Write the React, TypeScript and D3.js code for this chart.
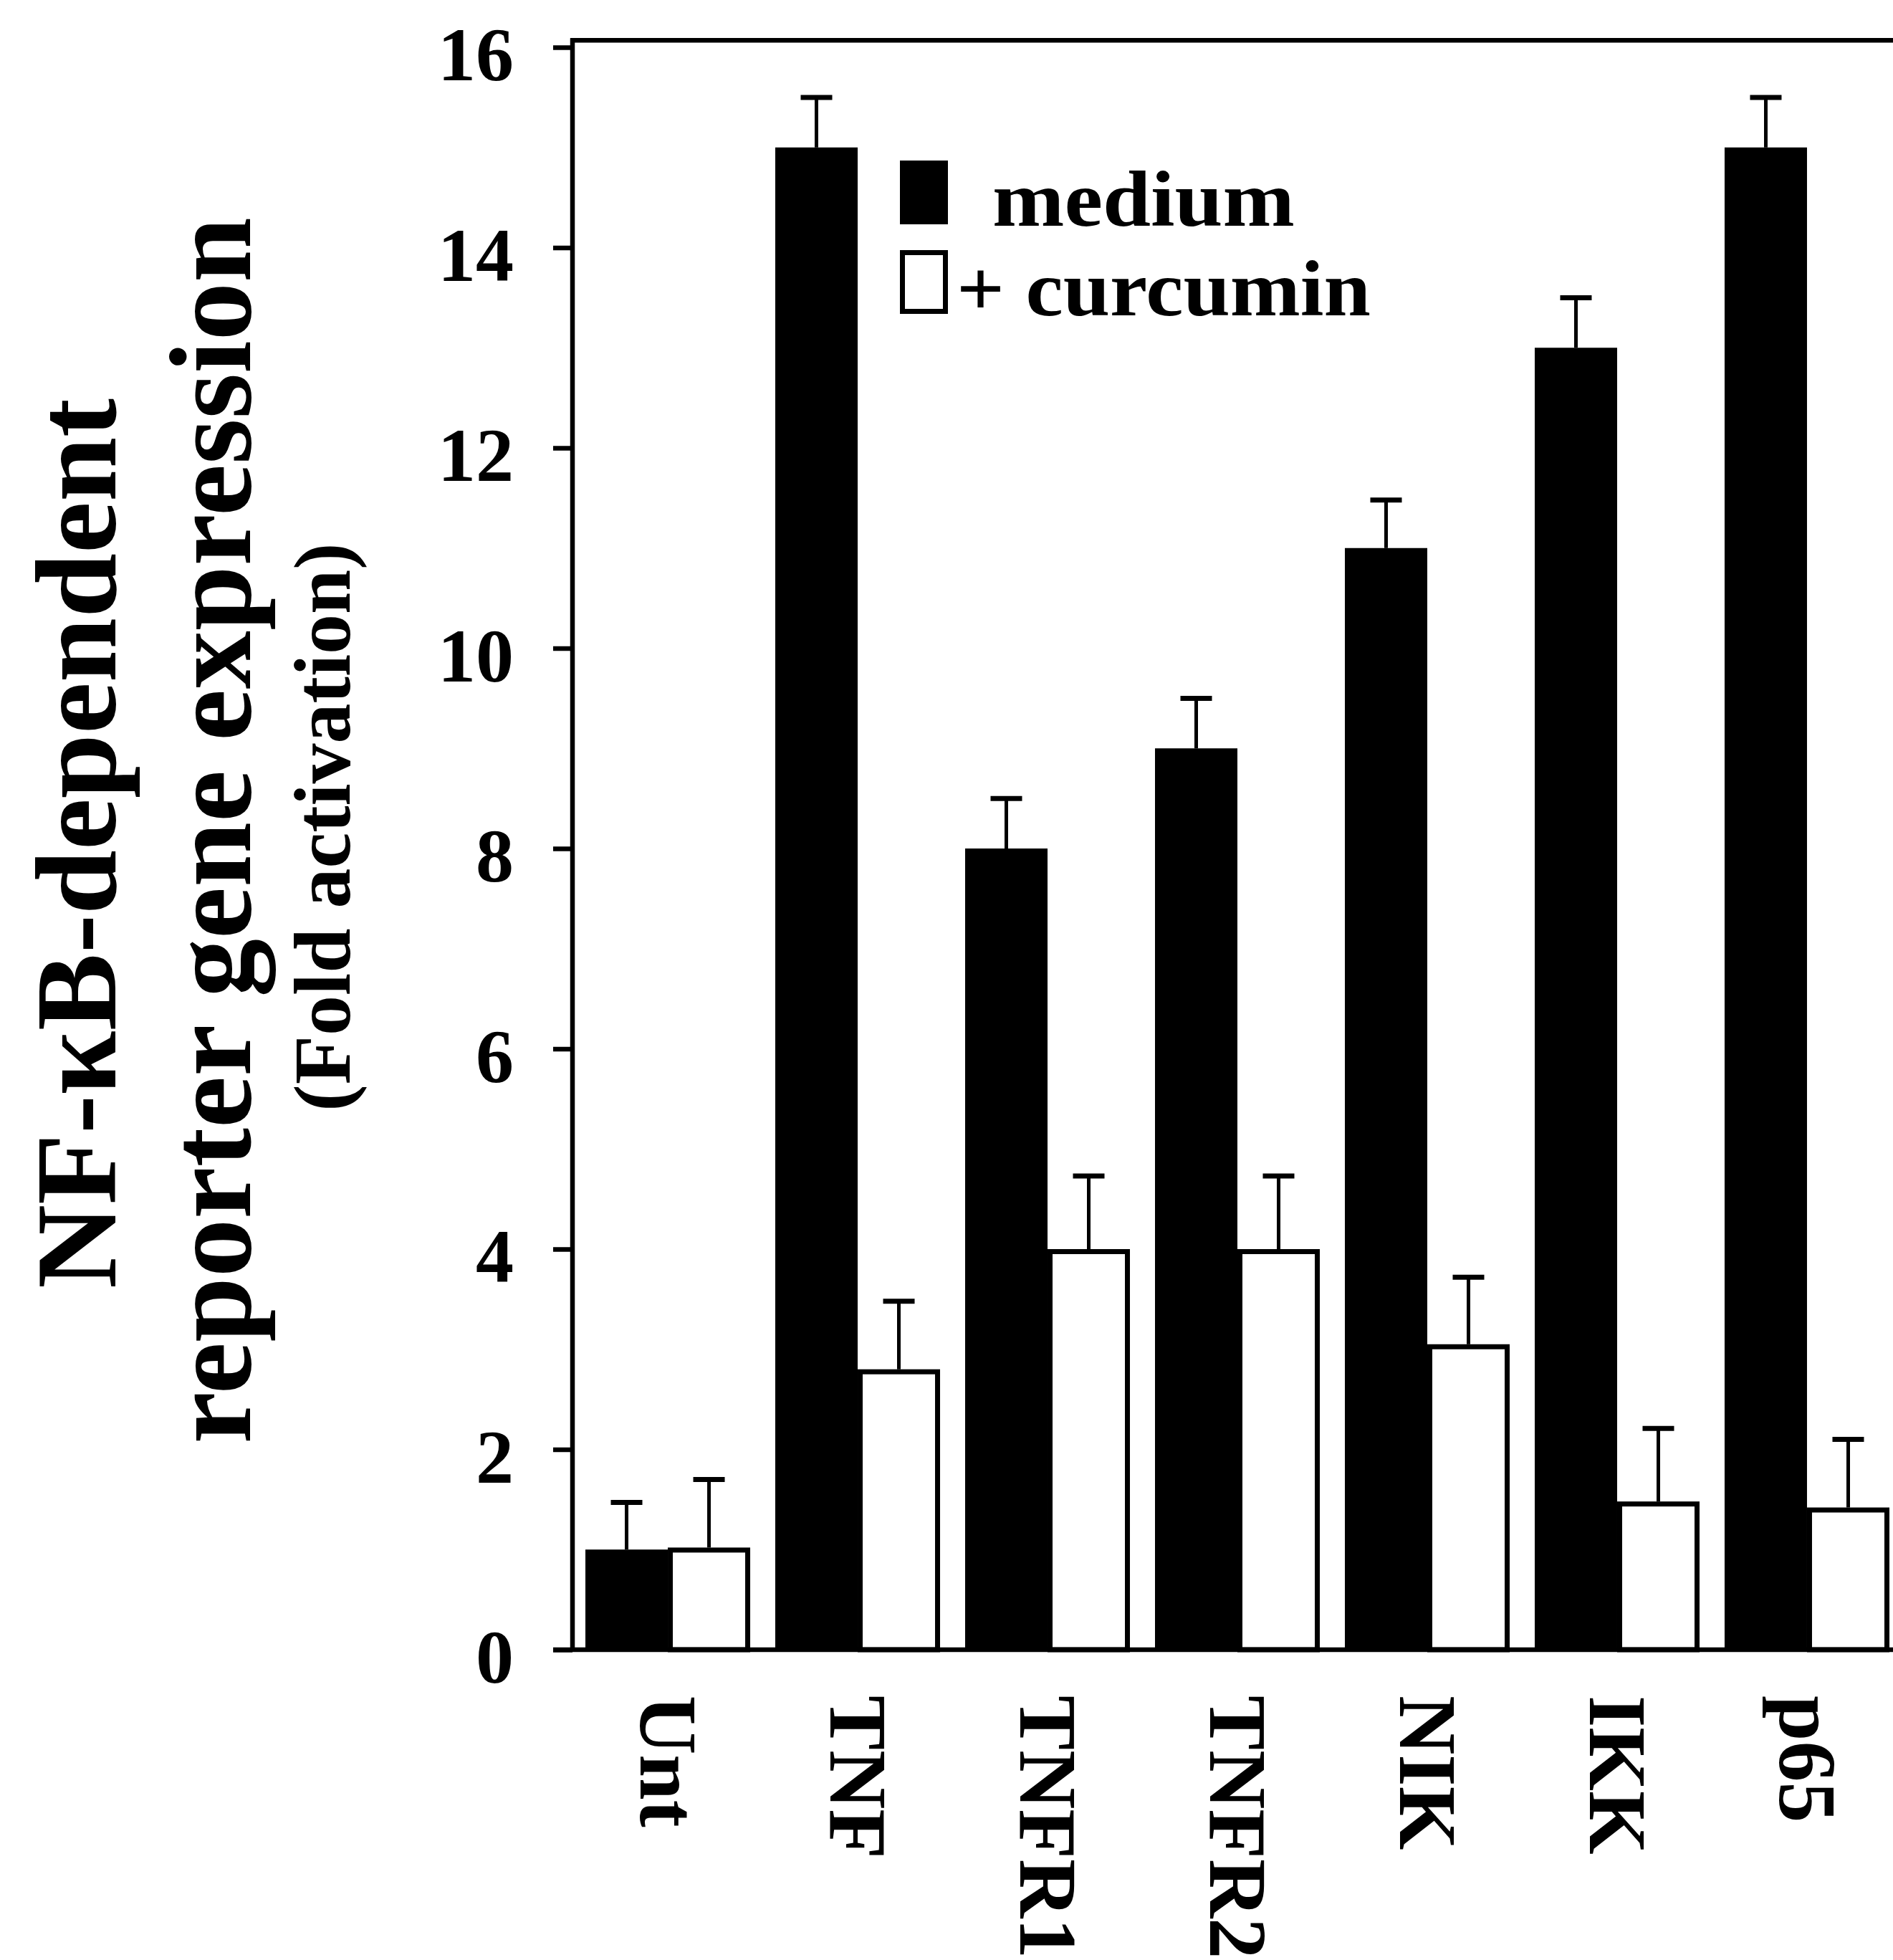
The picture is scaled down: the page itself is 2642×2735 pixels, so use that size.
import React, { useEffect, useRef } from 'react';
import * as d3 from 'd3';

const categories = ['Unt', 'TNF', 'TNFR1', 'TNFR2', 'NIK', 'IKK', 'p65'];
const seriesNames = ['medium', '+ curcumin'];
const mediumValues = [1.0, 15.0, 8.0, 9.0, 11.0, 13.0, 15.0];
const mediumErrors = [0.47, 0.5, 0.5, 0.5, 0.48, 0.5, 0.5];
const curcuminValues = [1.02, 2.8, 4.0, 4.0, 3.05, 1.48, 1.42];
const curcuminErrors = [0.68, 0.68, 0.73, 0.73, 0.67, 0.73, 0.68];
const yTicks = [0, 2, 4, 6, 8, 10, 12, 14, 16];
const yTitleLines = ['NF-\u03BAB-dependent', 'reporter gene expression', '(Fold activation)'];

const W = 2642;
const H = 2735;
const FONT = '"Liberation Serif", "Times New Roman", serif';

export default function App() {
  const axisRef = useRef<SVGGElement>(null);

  const y = d3.scaleLinear().domain([0, 16]).range([2302, 66]);
  const x = d3
    .scaleBand<string>()
    .domain(categories)
    .range([799, 2655])
    .paddingInner(0.132)
    .paddingOuter(0.068);
  const xs = d3.scaleBand<string>().domain(seriesNames).range([0, x.bandwidth()]);
  const axisX = 799;
  const frameTop = y(16.07);
  const sw = 7;
  const capHalf = 22;

  useEffect(() => {
    document.body.style.margin = '0';
    if (!axisRef.current) return;
    const g = d3.select(axisRef.current);
    g.selectAll('*').remove();
    const axis = d3
      .axisLeft(y)
      .tickValues(yTicks)
      .tickSize(27)
      .tickSizeOuter(0)
      .tickPadding(55)
      .tickFormat(d3.format('d'));
    g.call(axis as any);
    g.select('.domain').remove();
    g.selectAll('.tick line').attr('stroke', '#000').attr('stroke-width', 6.5);
    g.selectAll('.tick text')
      .attr('fill', '#000')
      .attr('dy', '0.43em')
      .style('font-family', FONT)
      .style('font-weight', 'bold')
      .style('font-size', '106px');
  }, []);

  const bars = categories.map((c, i) => {
    const x0 = x(c)!;
    const bx = x0 + xs('medium')!;
    const wx = x0 + xs('+ curcumin')!;
    const bw = xs.bandwidth();
    const mv = mediumValues[i];
    const me = mediumErrors[i];
    const cv = curcuminValues[i];
    const ce = curcuminErrors[i];
    const bcx = bx + bw / 2;
    const wcx = wx + bw / 2;
    return (
      <g key={c}>
        <line x1={bcx} x2={bcx} y1={y(mv)} y2={y(mv + me)} stroke="#000" strokeWidth={5} />
        <line x1={bcx - capHalf} x2={bcx + capHalf} y1={y(mv + me)} y2={y(mv + me)} stroke="#000" strokeWidth={7} />
        <rect x={bx} y={y(mv)} width={bw} height={y(0) - y(mv)} fill="#000" />
        <line x1={wcx} x2={wcx} y1={y(cv)} y2={y(cv + ce)} stroke="#000" strokeWidth={5} />
        <line x1={wcx - capHalf} x2={wcx + capHalf} y1={y(cv + ce)} y2={y(cv + ce)} stroke="#000" strokeWidth={7} />
        <rect
          x={wx + sw / 2}
          y={y(cv) + sw / 2}
          width={bw - sw}
          height={y(0) - y(cv) - sw / 2}
          fill="#fff"
          stroke="#000"
          strokeWidth={sw}
        />
        <text
          transform={`translate(${x0 + x.bandwidth() / 2},${2366}) rotate(90)`}
          dy="0.33em"
          fontFamily={FONT}
          fontWeight="bold"
          fontSize={114}
          fill="#000"
        >
          {c}
        </text>
      </g>
    );
  });

  return (
    <svg width={W} height={H} style={{ display: 'block', background: '#fff' }}>
      <rect x={0} y={0} width={W} height={H} fill="#fff" />
      {/* Y title */}
      <text
        transform={`translate(161,1177) rotate(-90)`}
        textAnchor="middle"
        fontFamily={FONT}
        fontWeight="bold"
        fontSize={162}
        fill="#000"
      >
        {yTitleLines[0]}
      </text>
      <text
        transform={`translate(349,1159) rotate(-90)`}
        textAnchor="middle"
        fontFamily={FONT}
        fontWeight="bold"
        fontSize={163}
        fill="#000"
      >
        {yTitleLines[1]}
      </text>
      <text
        transform={`translate(488,1154) rotate(-90)`}
        textAnchor="middle"
        fontFamily={FONT}
        fontWeight="bold"
        fontSize={112}
        fill="#000"
      >
        {yTitleLines[2]}
      </text>

      {bars}

      {/* frame */}
      <line x1={axisX - 3} x2={W} y1={frameTop} y2={frameTop} stroke="#000" strokeWidth={6.5} />
      <line x1={axisX} x2={axisX} y1={frameTop - 3} y2={y(0)} stroke="#000" strokeWidth={6.5} />
      <line x1={axisX - 27} x2={W} y1={y(0)} y2={y(0)} stroke="#000" strokeWidth={6.5} />
      <g ref={axisRef} transform={`translate(${axisX},0)`} />

      {/* legend */}
      <rect x={1256} y={224} width={67} height={89} fill="#000" />
      <rect x={1256 + sw / 2} y={349 + sw / 2} width={67 - sw} height={89 - sw} fill="#fff" stroke="#000" strokeWidth={sw} />
      <text
        x={1385}
        y={315}
        fontFamily={FONT}
        fontWeight="bold"
        fontSize={110}
        fill="#000"
        textLength={422}
        lengthAdjust="spacingAndGlyphs"
      >
        {seriesNames[0]}
      </text>
      <text
        x={1335}
        y={440}
        fontFamily={FONT}
        fontWeight="bold"
        fontSize={110}
        fill="#000"
        textLength={578}
        lengthAdjust="spacingAndGlyphs"
      >
        {seriesNames[1]}
      </text>
    </svg>
  );
}
